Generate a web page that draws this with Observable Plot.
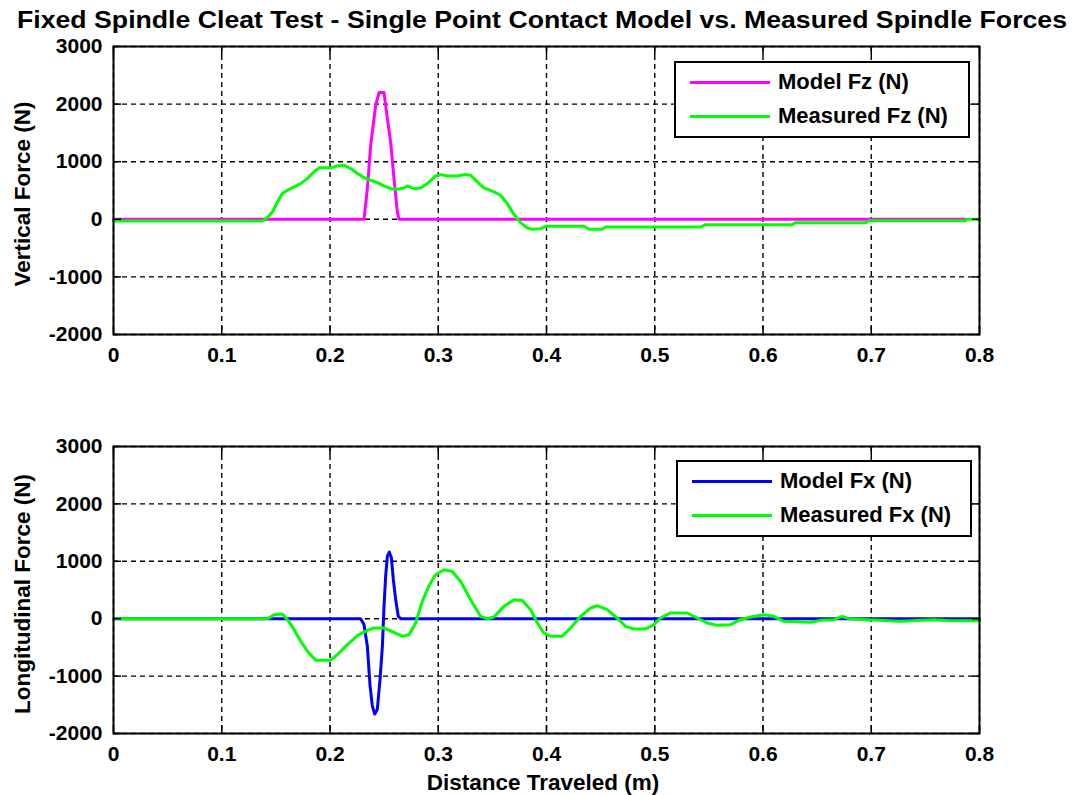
<!DOCTYPE html>
<html><head><meta charset="utf-8">
<script src="https://cdn.jsdelivr.net/npm/d3@7"></script>
<script src="https://cdn.jsdelivr.net/npm/@observablehq/plot@0.6"></script>
<style>
body{margin:0;background:#fff;}
#wrap{position:relative;width:1080px;height:795px;overflow:hidden;font-family:"Liberation Sans",Arial,sans-serif;font-weight:bold;color:#000;}
.abs{position:absolute;}
.ylab{position:absolute;font-size:22.5px;white-space:nowrap;transform:translate(-50%,-50%) rotate(-90deg);}
.legend{position:absolute;border:2px solid #000;background:#fff;box-sizing:border-box;}
.legrow{position:absolute;left:14px;display:flex;align-items:center;font-size:22px;white-space:nowrap;}
.legrow span.ln{display:inline-block;width:80px;height:3px;margin-right:8px;}
</style></head><body>
<div id="wrap"></div>
<script>
// ---- data ----
const titleText = "Fixed Spindle Cleat Test - Single Point Contact Model vs. Measured Spindle Forces";
const xLabel = "Distance Traveled (m)";
const topYLabel = "Vertical Force (N)";
const botYLabel = "Longitudinal Force (N)";
const xTicks = [0, 0.1, 0.2, 0.3, 0.4, 0.5, 0.6, 0.7, 0.8];
const yTicks = [-2000, -1000, 0, 1000, 2000, 3000];
const topLegend = ["Model Fz (N)", "Measured Fz (N)"];
const botLegend = ["Model Fx (N)", "Measured Fx (N)"];
const colors = {modelFz: "#ff00ff", modelFx: "#0000ff", measured: "#00ff00"};

const modelFzX = [0, 0.2314, 0.2345, 0.2376, 0.2422, 0.2453, 0.2499, 0.2530, 0.2560, 0.2591, 0.2622, 0.2637, 0.787];
const modelFzY = [0, 0, 530, 1290, 1980, 2200, 2200, 1750, 1340, 710, 130, 0, 0];

const measFzX = [0, 0.1376, 0.1422, 0.1468, 0.1514, 0.1560, 0.1607, 0.1668, 0.1729, 0.1791, 0.1852, 0.1899, 0.2006, 0.2068, 0.2130, 0.2191, 0.2253, 0.2314, 0.2376, 0.2438, 0.2499, 0.2560, 0.2622, 0.2683, 0.2715, 0.2776, 0.2837, 0.2899, 0.2976, 0.3022, 0.3084, 0.3176, 0.3238, 0.3299, 0.3361, 0.3422, 0.3514, 0.3576, 0.3638, 0.3700, 0.3761, 0.3822, 0.3870, 0.3945, 0.3992, 0.4346, 0.4392, 0.4515, 0.4546, 0.5423, 0.5469, 0.6269, 0.6300, 0.6947, 0.6977, 0.787, 0.7886, 0.8];
const measFzY = [-30, -30, 30, 127, 301, 446, 504, 562, 620, 707, 823, 893, 893, 927, 939, 881, 794, 724, 678, 637, 579, 532, 521, 544, 579, 532, 544, 620, 753, 776, 753, 753, 776, 765, 649, 544, 475, 417, 272, 81, -59, -151, -174, -162, -122, -122, -174, -174, -134, -134, -93, -93, -59, -59, -24, -24, 0, 0];

const modelFxX = [0, 0.2283, 0.2314, 0.2345, 0.2370, 0.2391, 0.2413, 0.2437, 0.2462, 0.2484, 0.2499, 0.2514, 0.2530, 0.2548, 0.2567, 0.2585, 0.2607, 0.2631, 0.2653, 0.8];
const modelFxY = [0, 0, -100, -480, -1170, -1520, -1660, -1580, -1060, -480, 220, 740, 1090, 1160, 1060, 680, 330, 40, 0, 0];

const measFxX = [0, 0.1422, 0.1483, 0.1560, 0.1607, 0.1668, 0.1729, 0.1791, 0.1868, 0.2006, 0.2068, 0.2161, 0.2253, 0.2345, 0.2407, 0.2499, 0.2591, 0.2668, 0.2730, 0.2791, 0.2853, 0.2914, 0.2976, 0.3053, 0.3130, 0.3207, 0.3299, 0.3391, 0.3453, 0.3514, 0.3607, 0.3699, 0.3776, 0.3853, 0.3915, 0.3976, 0.4038, 0.4146, 0.4222, 0.4315, 0.4407, 0.4469, 0.4561, 0.4653, 0.4730, 0.4807, 0.4915, 0.4992, 0.5053, 0.5146, 0.5300, 0.5393, 0.5485, 0.5577, 0.5700, 0.5792, 0.5885, 0.6007, 0.6100, 0.6192, 0.6438, 0.6531, 0.6654, 0.6731, 0.6792, 0.6962, 0.7270, 0.7577, 0.7731, 0.8];
const measFxY = [0, 0, 70, 82, -17, -191, -393, -567, -723, -723, -626, -452, -296, -203, -162, -162, -237, -306, -278, -75, 302, 574, 765, 852, 823, 649, 330, 41, 0, 29, 215, 330, 319, 157, -75, -249, -306, -306, -162, 41, 186, 226, 157, 12, -133, -179, -179, -104, 12, 99, 99, 12, -75, -116, -104, -17, 29, 70, 41, -46, -63, -29, -17, 41, 0, -17, -46, -17, -35, -35];

// ---- build ----
const zip = (xs, ys) => xs.map((x, i) => ({x, y: ys[i]}));
const wrap = document.getElementById("wrap");

// title
const ns = "http://www.w3.org/2000/svg";
const tsvg = document.createElementNS(ns, "svg");
tsvg.setAttribute("width", 1080); tsvg.setAttribute("height", 34);
tsvg.setAttribute("class", "abs"); tsvg.style.left = "0px"; tsvg.style.top = "0px";
const tt = document.createElementNS(ns, "text");
tt.setAttribute("x", 17); tt.setAttribute("y", 28);
tt.setAttribute("textLength", 1050); tt.setAttribute("lengthAdjust", "spacingAndGlyphs");
tt.setAttribute("font-family", "Liberation Sans, Arial, sans-serif");
tt.setAttribute("font-weight", "bold"); tt.setAttribute("font-size", 23);
tt.textContent = titleText;
tsvg.appendChild(tt); wrap.appendChild(tsvg);

function panel(model, measured, modelColor, top, height, mt, mb) {
  const fmtX = d => d === 0 ? "0" : d.toFixed(1);
  const p = Plot.plot({
    width: 1080, height,
    marginLeft: 113, marginRight: 101, marginTop: mt, marginBottom: mb,
    style: {fontFamily: "Liberation Sans, Arial, sans-serif", fontWeight: "bold", fontSize: "21px", background: "#fff", color: "#000"},
    x: {domain: [0, 0.8], label: null},
    y: {domain: [-2000, 3000], label: null},
    marks: [
      Plot.gridX(xTicks, {stroke: "#000", strokeOpacity: 1, strokeWidth: 1.4, strokeDasharray: "5,4"}),
      Plot.gridY(yTicks, {stroke: "#000", strokeOpacity: 1, strokeWidth: 1.4, strokeDasharray: "5,4"}),
      Plot.line(model, {x: "x", y: "y", stroke: modelColor, strokeWidth: 3}),
      Plot.line(measured, {x: "x", y: "y", stroke: colors.measured, strokeWidth: 3}),
      Plot.axisX(xTicks, {anchor: "bottom", tickSize: -8, tickPadding: 21, tickFormat: fmtX, strokeWidth: 1.5}),
      Plot.axisX(xTicks, {anchor: "top", tickSize: -8, tickFormat: () => "", strokeWidth: 1.5}),
      Plot.axisY(yTicks, {anchor: "left", tickSize: -8, tickPadding: 19, tickFormat: d => String(d), strokeWidth: 1.5}),
      Plot.axisY(yTicks, {anchor: "right", tickSize: -8, tickFormat: () => "", strokeWidth: 1.5}),
      Plot.frame({stroke: "#000", strokeWidth: 2})
    ]
  });
  p.style.position = "absolute"; p.style.left = "0px"; p.style.top = top + "px";
  wrap.appendChild(p);
}

panel(zip(modelFzX, modelFzY), zip(measFzX, measFzY), colors.modelFz, 34, 340, 12, 40);
panel(zip(modelFxX, modelFxY), zip(measFxX, measFxY), colors.modelFx, 380, 415, 66, 62);

function addDiv(cls, text, css) {
  const d = document.createElement("div"); d.className = cls; d.textContent = text;
  Object.assign(d.style, css); wrap.appendChild(d); return d;
}
addDiv("ylab", topYLabel, {left: "23px", top: "194px"});
addDiv("ylab", botYLabel, {left: "23px", top: "594px"});
addDiv("abs", xLabel, {left: "543px", top: "770px", transform: "translateX(-50%)", fontSize: "22.5px", whiteSpace: "nowrap"});

function legend(labels, cols, left, top) {
  const box = document.createElement("div"); box.className = "legend";
  Object.assign(box.style, {left: left + "px", top: top + "px", width: "296px", height: "77px"});
  labels.forEach((lab, i) => {
    const r = document.createElement("div"); r.className = "legrow";
    r.style.top = (i === 0 ? 5 : 39) + "px"; r.style.height = "28px";
    const ln = document.createElement("span"); ln.className = "ln"; ln.style.background = cols[i];
    const tx = document.createElement("span"); tx.textContent = lab;
    r.appendChild(ln); r.appendChild(tx); box.appendChild(r);
  });
  wrap.appendChild(box);
}
legend(topLegend, [colors.modelFz, colors.measured], 674, 61);
legend(botLegend, [colors.modelFx, colors.measured], 676, 460);
</script>
</body></html>
